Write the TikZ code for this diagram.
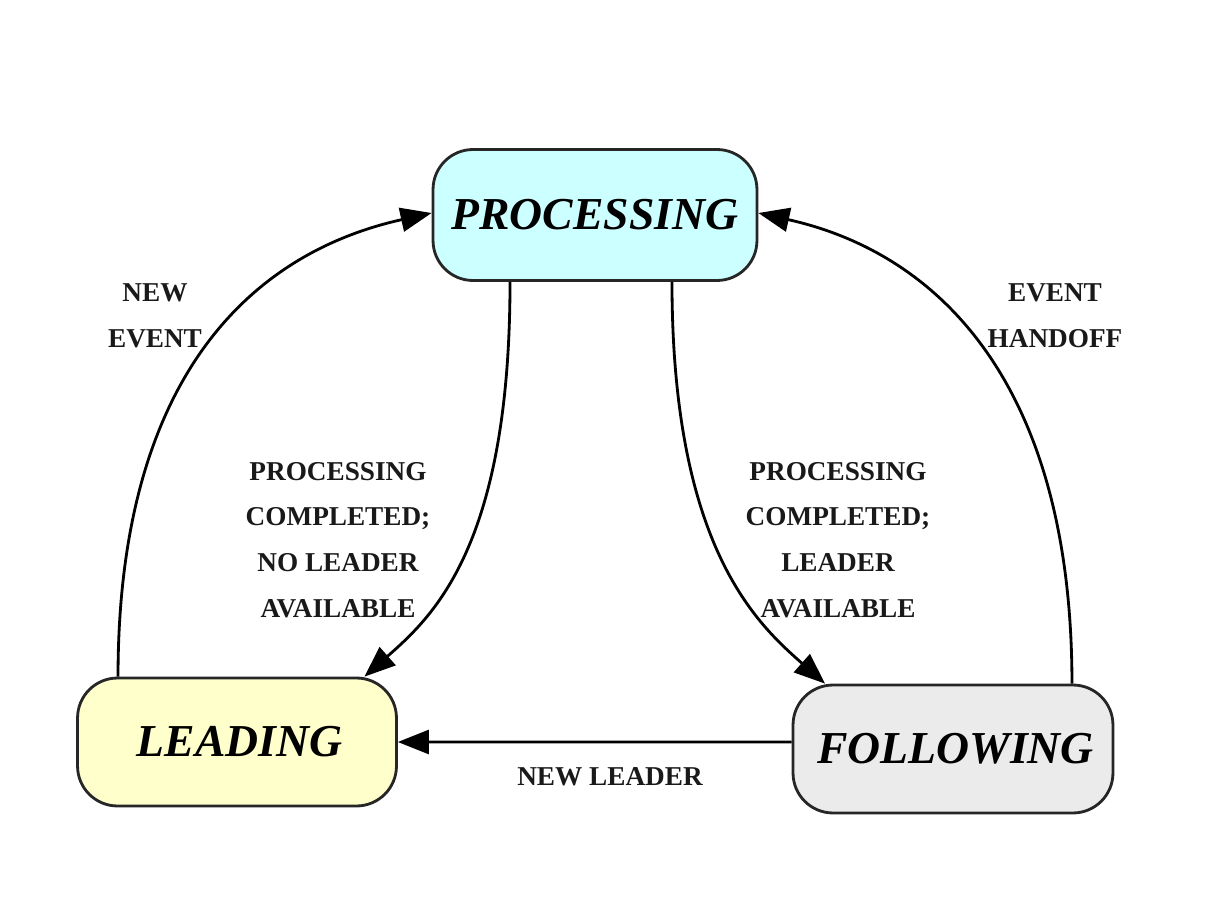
\documentclass[tikz,border=0pt]{standalone}
\usepackage{fontspec}
\setmainfont{Liberation Serif}
\usetikzlibrary{arrows.meta,calc}
\definecolor{proccol}{HTML}{CCFFFF}
\definecolor{leadcol}{HTML}{FFFFCC}
\definecolor{follcol}{HTML}{EBEBEB}
\begin{document}
\begin{tikzpicture}[x=0.02cm,y=-0.02cm,
  state/.style={draw=black!85, line width=1.6pt, rounded corners=0.8cm, inner sep=0pt,
    minimum width=6.4cm, minimum height=2.58cm, font=\fontsize{26}{30}\selectfont\bfseries\itshape},
  lbl/.style={font=\fontsize{15.5}{26}\selectfont\bfseries, align=center, text=black!90},
  conn/.style={line width=1.6pt, -{Triangle[length=0.62cm,width=0.48cm]}}]
\useasboundingbox (0,0) rectangle (1232,916);
\node[state, fill=proccol, minimum width=6.48cm, minimum height=2.62cm] (proc) at (595,215) {PROCESSING};
\node[state, fill=leadcol, minimum width=6.38cm, minimum height=2.56cm] (lead) at (237,742) {\hspace{0.1cm}LEADING};
\node[state, fill=follcol, minimum width=6.4cm, minimum height=2.56cm] (foll) at (953,749) {\hspace{0.1cm}FOLLOWING};
% connectors
\draw[conn] ([xshift=-2.38cm]lead.north) .. controls +(0,-300) and +(-180,40) .. ([yshift=0.04cm]proc.west);
\draw[conn] ([xshift=-1.7cm]proc.south) .. controls +(0,265) and +(68,-60) .. ([xshift=2.55cm]lead.north);
\draw[conn] ([xshift=1.54cm]proc.south) .. controls +(0,265) and +(-68,-60) .. ([xshift=-2.56cm]foll.north);
\draw[conn] ([xshift=2.38cm]foll.north) .. controls +(0,-300) and +(180,40) .. ([yshift=0.04cm]proc.east);
\draw[conn] ([yshift=0.14cm]foll.west) -- ([yshift=0cm]lead.east);
% labels
\node[lbl] (l1) at (155,316) {NEW\\EVENT};
\node[lbl] (l2) at (1055,316) {EVENT\\HANDOFF};
\node[lbl] (l3) at (338,540) {PROCESSING\\COMPLETED;\\NO LEADER\\AVAILABLE};
\node[lbl] (l4) at (838,540) {PROCESSING\\COMPLETED;\\LEADER\\AVAILABLE};
\node[lbl] (l5) at (610,777) {NEW LEADER};
\end{tikzpicture}
\end{document}
